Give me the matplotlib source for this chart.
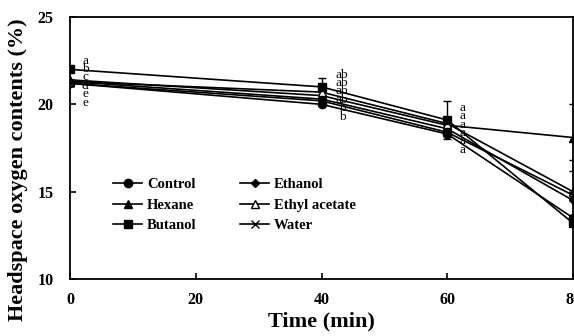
import numpy as np
import matplotlib
matplotlib.use("Agg")
import matplotlib.pyplot as plt
from matplotlib.lines import Line2D

plt.rcParams["font.family"] = ["Liberation Serif", "DejaVu Serif"]

time = [0, 40, 60, 80]

control = [21.2, 20.0, 18.3, 13.5]
ethanol = [21.3, 20.3, 18.6, 14.5]
hexane = [21.4, 20.5, 18.8, 18.1]
ethyl_acetate = [21.3, 20.7, 18.9, 15.0]
butanol = [22.0, 21.0, 19.1, 13.2]
water = [21.2, 20.2, 18.4, 14.8]

# error bars (only some are visible in the original)
err_control = [0, 0, 0, 0]
err_ethanol = [0, 0, 0, 0]
err_hexane = [0, 0, 0, 1.9]
err_ethyl_acetate = [0, 0, 0, 1.8]
err_butanol = [0, 0.5, 1.1, 0]
err_water = [0, 0, 0, 0]

# significance letters per time point (top to bottom)
letters_0 = ["a", "b", "c", "d", "e", "e"]
letters_40 = ["ab", "ab", "ab", "ab", "b", "b"]
letters_60 = ["a", "a", "a", "a", "a", "a"]
letter_top = {0: 22.5, 40: 21.7, 60: 19.8}
letter_x = {0: 2.4, 40: 43.3, 60: 62.5}
letter_step = 0.48

series = [
    ("Control", control, err_control, "o", "black", 6),
    ("Ethanol", ethanol, err_ethanol, "D", "black", 4.5),
    ("Hexane", hexane, err_hexane, "^", "black", 6),
    ("Ethyl acetate", ethyl_acetate, err_ethyl_acetate, "^", "white", 6),
    ("Butanol", butanol, err_butanol, "s", "black", 6),
    ("Water", water, err_water, "x", "black", 6),
]

fig = plt.figure(figsize=(5.74, 3.36), dpi=100)
ax = fig.add_axes([70 / 574, 1 - 279 / 336, 503 / 574, 262 / 336])

handles = {}
for name, vals, err, mk, fc, ms in series:
    ax.errorbar(time, vals, yerr=err, color="black", marker=mk, markersize=ms,
                markerfacecolor=fc, markeredgecolor="black", lw=1.2,
                capsize=3, elinewidth=1.0, capthick=1.0)
    handles[name] = Line2D([], [], color="black", marker=mk, markersize=ms,
                           markerfacecolor=fc, markeredgecolor="black", lw=1.2)

for t, labs in [(0, letters_0), (40, letters_40), (60, letters_60)]:
    for i, lab in enumerate(labs):
        ax.text(letter_x[t], letter_top[t] - i * letter_step, lab,
                fontsize=9.5, ha="center", va="center")

ax.set_xlim(0, 80)
ax.set_ylim(10, 25)
ax.set_xticks([0, 20, 40, 60, 80])
ax.set_yticks([10, 15, 20, 25])
ax.tick_params(direction="in", length=4, width=1.2, labelsize=11.5)
ax.tick_params(axis="x", pad=9)
ax.tick_params(axis="y", pad=12)
for lab in ax.get_xticklabels() + ax.get_yticklabels():
    lab.set_fontweight("bold")
for sp in ax.spines.values():
    sp.set_linewidth(1.3)

ax.set_xlabel("Time (min)", fontsize=16, fontweight="bold", labelpad=3)
ax.set_ylabel("Headspace oxygen contents (%)", fontsize=16, fontweight="bold")
ax.yaxis.set_label_coords(-0.083, 0.416)

# legend filled row by row like the original
order = ["Control", "Hexane", "Butanol", "Ethanol", "Ethyl acetate", "Water"]
ax.legend([handles[n] for n in order], order, ncol=2, frameon=False,
          loc="upper left", bbox_to_anchor=(0.06, 0.435),
          prop={"weight": "bold", "size": 10.5},
          handlelength=2.0, handletextpad=0.3, columnspacing=3.0,
          labelspacing=0.5)

fig.savefig("out.png", dpi=100)
